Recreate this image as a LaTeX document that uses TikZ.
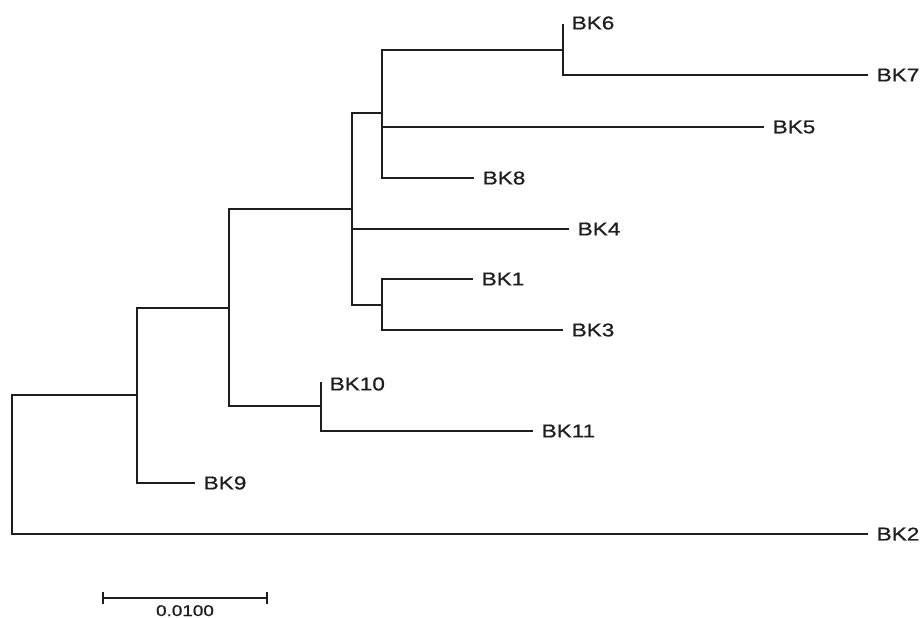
\documentclass[tikz,border=0pt]{standalone}
\usepackage{fontspec}
\newfontfamily\labfont[FakeStretch=1.22,FakeBold=0.8]{Liberation Sans}
\definecolor{ink}{HTML}{1E1E1E}
\begin{document}
\begin{tikzpicture}[x=1pt,y=-1pt,
  branch/.style={draw=ink,line width=2.2pt},
  leaflab/.style={anchor=west,inner sep=0pt,xshift=8.5pt,font=\labfont\fontsize{18.5}{21}\selectfont,text=ink}]
\useasboundingbox (0,0) rectangle (922,618);
% internal nodes
\coordinate (root) at (12,464.5);
\coordinate (n1) at (137,395);
\coordinate (n2) at (229,308);
\coordinate (n3) at (352,209);
\coordinate (n4) at (382,113);
\coordinate (n5) at (563,50);
\coordinate (n6) at (382,305);
\coordinate (n7) at (321,406);
% leaves
\coordinate (l6) at (563,24);
\coordinate (l7) at (868,75);
\coordinate (l5) at (764,127);
\coordinate (l8) at (474,178);
\coordinate (l4) at (569,229);
\coordinate (l1) at (473,279);
\coordinate (l3) at (563,330);
\coordinate (l10) at (321,382);
\coordinate (l11) at (533,431);
\coordinate (l9) at (195,483);
\coordinate (l2) at (868,534);
% branches
\draw[branch] (root) |- (n1);
\draw[branch] (root) |- (l2);
\draw[branch] (n1) |- (n2);
\draw[branch] (n1) |- (l9);
\draw[branch] (n2) |- (n3);
\draw[branch] (n2) |- (n7);
\draw[branch] (n3) |- (n4);
\draw[branch] (n3) |- (l4);
\draw[branch] (n3) |- (n6);
\draw[branch] (n4) |- (n5);
\draw[branch] (n4) |- (l5);
\draw[branch] (n4) |- (l8);
\draw[branch] (n5) |- (l6);
\draw[branch] (n5) |- (l7);
\draw[branch] (n6) |- (l1);
\draw[branch] (n6) |- (l3);
\draw[branch] (n7) |- (l10);
\draw[branch] (n7) |- (l11);
% labels
\node[leaflab] (t6) at ([yshift=1pt]l6) {BK6};
\node[leaflab] (t7) at (l7) {BK7};
\node[leaflab] (t5) at (l5) {BK5};
\node[leaflab] (t8) at (l8) {BK8};
\node[leaflab] (t4) at (l4) {BK4};
\node[leaflab] (t1) at (l1) {BK1};
\node[leaflab] (t3) at (l3) {BK3};
\node[leaflab] (t10) at ([yshift=-2pt]l10) {BK10};
\node[leaflab] (t11) at (l11) {BK11};
\node[leaflab] (t9) at (l9) {BK9};
\node[leaflab] (t2) at (l2) {BK2};
% scale bar
\coordinate (sa) at (103,598);
\coordinate (sb) at (267,598);
\draw[branch] (sa) -- (sb);
\draw[branch] ([yshift=-6pt]sa) -- ([yshift=6pt]sa);
\draw[branch] ([yshift=-6pt]sb) -- ([yshift=6pt]sb);
\node[inner sep=0pt,anchor=north,font=\labfont\fontsize{15.5}{17}\selectfont,text=ink] (sl) at (185,605) {0.0100};
\end{tikzpicture}
\end{document}
